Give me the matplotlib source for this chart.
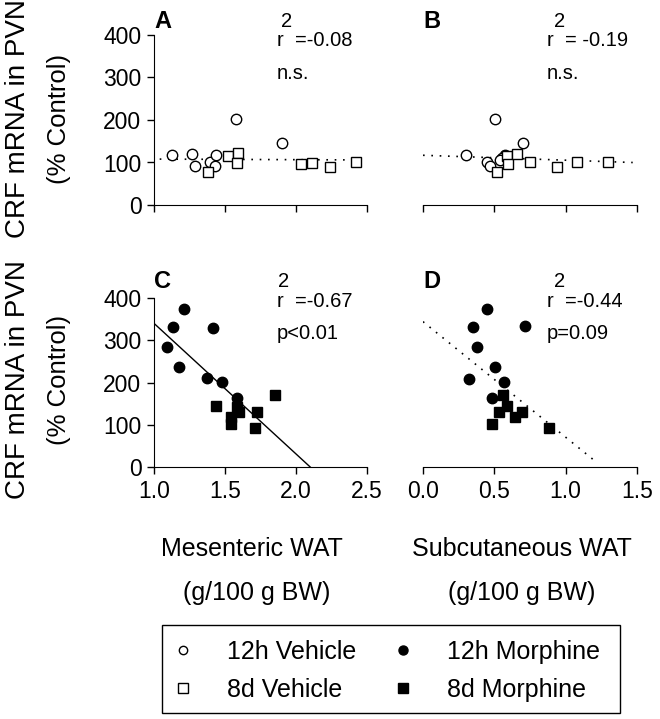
import matplotlib
matplotlib.use("Agg")
import matplotlib.pyplot as plt
from matplotlib.lines import Line2D
from matplotlib.patches import Rectangle

plt.rcParams['font.family'] = ['Liberation Sans', 'DejaVu Sans']

# ---------------- data ----------------
# Panel A (Mesenteric WAT, top row: vehicle groups)
A_veh12_x = [1.13, 1.265, 1.289, 1.394, 1.43, 1.44, 1.575, 1.899]
A_veh12_y = [117, 120, 92, 102, 92, 117, 203, 147]
A_veh8_x = [1.383, 1.523, 1.594, 1.582, 2.033, 2.11, 2.24, 2.42]
A_veh8_y = [78, 115, 122, 98, 96, 98, 90, 100]
A_fit_x = [1.04, 2.46]
A_fit_y = [108, 106]

# Panel B (Subcutaneous WAT, vehicle groups)
B_veh12_x = [0.30, 0.505, 0.446, 0.575, 0.555, 0.703, 0.47, 0.54]
B_veh12_y = [117, 203, 100, 118, 110, 147, 92, 105]
B_veh8_x = [0.516, 0.591, 0.598, 0.661, 0.75, 0.937, 1.077, 1.30]
B_veh8_y = [78, 115, 96, 120, 100, 90, 100, 100]
B_fit_x = [0.0, 1.47]
B_fit_y = [117, 100]

# Panel C (Mesenteric WAT, morphine groups)
C_mor12_x = [1.212, 1.135, 1.416, 1.091, 1.178, 1.371, 1.477, 1.586]
C_mor12_y = [373, 332, 329, 283, 237, 210, 202, 164]
C_mor8_x = [1.434, 1.586, 1.598, 1.54, 1.54, 1.722, 1.708, 1.855]
C_mor8_y = [144, 143, 131, 119, 102, 129, 93, 170]
C_fit_x = [1.0, 2.10]
C_fit_y = [340, 0]

# Panel D (Subcutaneous WAT, morphine groups)
D_mor12_x = [0.446, 0.353, 0.715, 0.376, 0.505, 0.325, 0.568, 0.481]
D_mor12_y = [374, 331, 334, 283, 237, 209, 202, 164]
D_mor8_x = [0.558, 0.587, 0.535, 0.692, 0.645, 0.481, 0.885]
D_mor8_y = [170, 144, 131, 131, 118, 102, 92]
D_fit_x = [0.0, 1.21]
D_fit_y = [344, 13]

y_ticks = [0, 100, 200, 300, 400]
mes_ticks = [1.0, 1.5, 2.0, 2.5]
sub_ticks = [0.0, 0.5, 1.0, 1.5]

panel_letters = ['A', 'B', 'C', 'D']
r2_texts = ['r  =-0.08', 'r  = -0.19', 'r  =-0.67', 'r  =-0.44']
p_texts = ['n.s.', 'n.s.', 'p<0.01', 'p=0.09']
legend_labels = ['12h Vehicle', '8d Vehicle', '12h Morphine', '8d Morphine']

# ---------------- figure ----------------
W, H = 660, 719
fig = plt.figure(figsize=(W / 100, H / 100), dpi=100)


def add_ax(x0, x1, ytop, ybot):
    return fig.add_axes([x0 / W, 1 - ybot / H, (x1 - x0) / W, (ybot - ytop) / H])


axA = add_ax(154, 367, 35, 205)
axB = add_ax(423, 637, 35, 205)
axC = add_ax(154, 367, 298, 467)
axD = add_ax(423, 637, 298, 467)

ms = 7.5
for ax in (axA, axB, axC, axD):
    ax.set_ylim(0, 400)
    ax.spines['top'].set_visible(False)
    ax.spines['right'].set_visible(False)
    ax.tick_params(direction='out', length=5, width=1, labelsize=16.5, pad=4)
    ax.patch.set_alpha(0)

for ax in (axA, axC):
    ax.set_xlim(1.0, 2.5)
    ax.set_xticks(mes_ticks)
    ax.set_yticks(y_ticks)
for ax in (axB, axD):
    ax.set_xlim(0.0, 1.5)
    ax.set_xticks(sub_ticks)
    ax.spines['left'].set_visible(False)
    ax.set_yticks([])

for ax in (axA, axB):
    ax.set_xticklabels([])
axC.set_xticklabels(['1.0', '1.5', '2.0', '2.5'])
axD.set_xticklabels(['0.0', '0.5', '1.0', '1.5'])

dot = (0, (1, 4))
# A
axA.plot(A_fit_x, A_fit_y, color='black', lw=1.2, ls=dot)
axA.plot(A_veh12_x, A_veh12_y, 'o', mfc='white', mec='black', mew=1, ms=ms, clip_on=False)
axA.plot(A_veh8_x, A_veh8_y, 's', mfc='white', mec='black', mew=1, ms=ms, clip_on=False)
# B
axB.plot(B_fit_x, B_fit_y, color='black', lw=1.2, ls=dot)
axB.plot(B_veh12_x, B_veh12_y, 'o', mfc='white', mec='black', mew=1, ms=ms, clip_on=False)
axB.plot(B_veh8_x, B_veh8_y, 's', mfc='white', mec='black', mew=1, ms=ms, clip_on=False)
# C
axC.plot(C_fit_x, C_fit_y, color='black', lw=1.0, ls='-')
axC.plot(C_mor12_x, C_mor12_y, 'o', color='black', ms=ms, clip_on=False)
axC.plot(C_mor8_x, C_mor8_y, 's', color='black', ms=ms, clip_on=False)
# D
axD.plot(D_fit_x, D_fit_y, color='black', lw=1.2, ls=dot)
axD.plot(D_mor12_x, D_mor12_y, 'o', color='black', ms=ms, clip_on=False)
axD.plot(D_mor8_x, D_mor8_y, 's', color='black', ms=ms, clip_on=False)

# annotations
ann = [
    (axA, 1.08, 0.965, 0.776, 0.577, 0.624),
    (axB, 1.08, 0.965, 0.776, 0.579, 0.636),
    (axC, 1.096, 0.978, 0.787, 0.577, 0.61),
    (axD, 1.096, 0.978, 0.787, 0.579, 0.636),
]
for (ax, ylet, yr, yp, xr, x2), let, rt, pt in zip(ann, panel_letters, r2_texts, p_texts):
    ax.text(0.0, ylet, let, transform=ax.transAxes, fontsize=17, fontweight='bold',
            ha='left', va='center')
    ax.text(x2, ylet, '2', transform=ax.transAxes, fontsize=14.5, ha='center', va='center')
    ax.text(xr, yr, rt, transform=ax.transAxes, fontsize=14.5, ha='left', va='center')
    ax.text(xr, yp, pt, transform=ax.transAxes, fontsize=14.5, ha='left', va='center')

# axis labels
for yc in (119, 380):
    fig.text(18 / W, 1 - yc / H, 'CRF mRNA in PVN', rotation=90, fontsize=20,
             ha='center', va='center')
    fig.text(59 / W, 1 - yc / H, '(% Control)', rotation=90, fontsize=18.5,
             ha='center', va='center')

fig.text(252 / W, 1 - 549 / H, 'Mesenteric WAT', fontsize=18, ha='center', va='center')
fig.text(257 / W, 1 - 593 / H, '(g/100 g BW)', fontsize=18, ha='center', va='center')
fig.text(522 / W, 1 - 549 / H, 'Subcutaneous WAT', fontsize=18, ha='center', va='center')
fig.text(522 / W, 1 - 593 / H, '(g/100 g BW)', fontsize=18, ha='center', va='center')

# legend
handles = [
    Line2D([], [], ls='none', marker='o', mfc='white', mec='black', mew=1, ms=6),
    Line2D([], [], ls='none', marker='s', mfc='white', mec='black', mew=1, ms=6.5),
    Line2D([], [], ls='none', marker='o', color='black', ms=6.5),
    Line2D([], [], ls='none', marker='s', color='black', ms=6.5),
]
leg = fig.legend(handles, legend_labels, ncol=2, loc='upper left',
                 bbox_to_anchor=(160 / W, 1 - 630 / H), fontsize=18,
                 frameon=False,
                 handlelength=1.0, handletextpad=1.28, columnspacing=1.35,
                 labelspacing=0.56, borderpad=0.4, borderaxespad=0)
fig.patches.append(Rectangle((162 / W, 1 - 713 / H), 458 / W, 88 / H,
                             transform=fig.transFigure, fill=False,
                             edgecolor='black', lw=1.0))

fig.savefig('out.png', dpi=100)
